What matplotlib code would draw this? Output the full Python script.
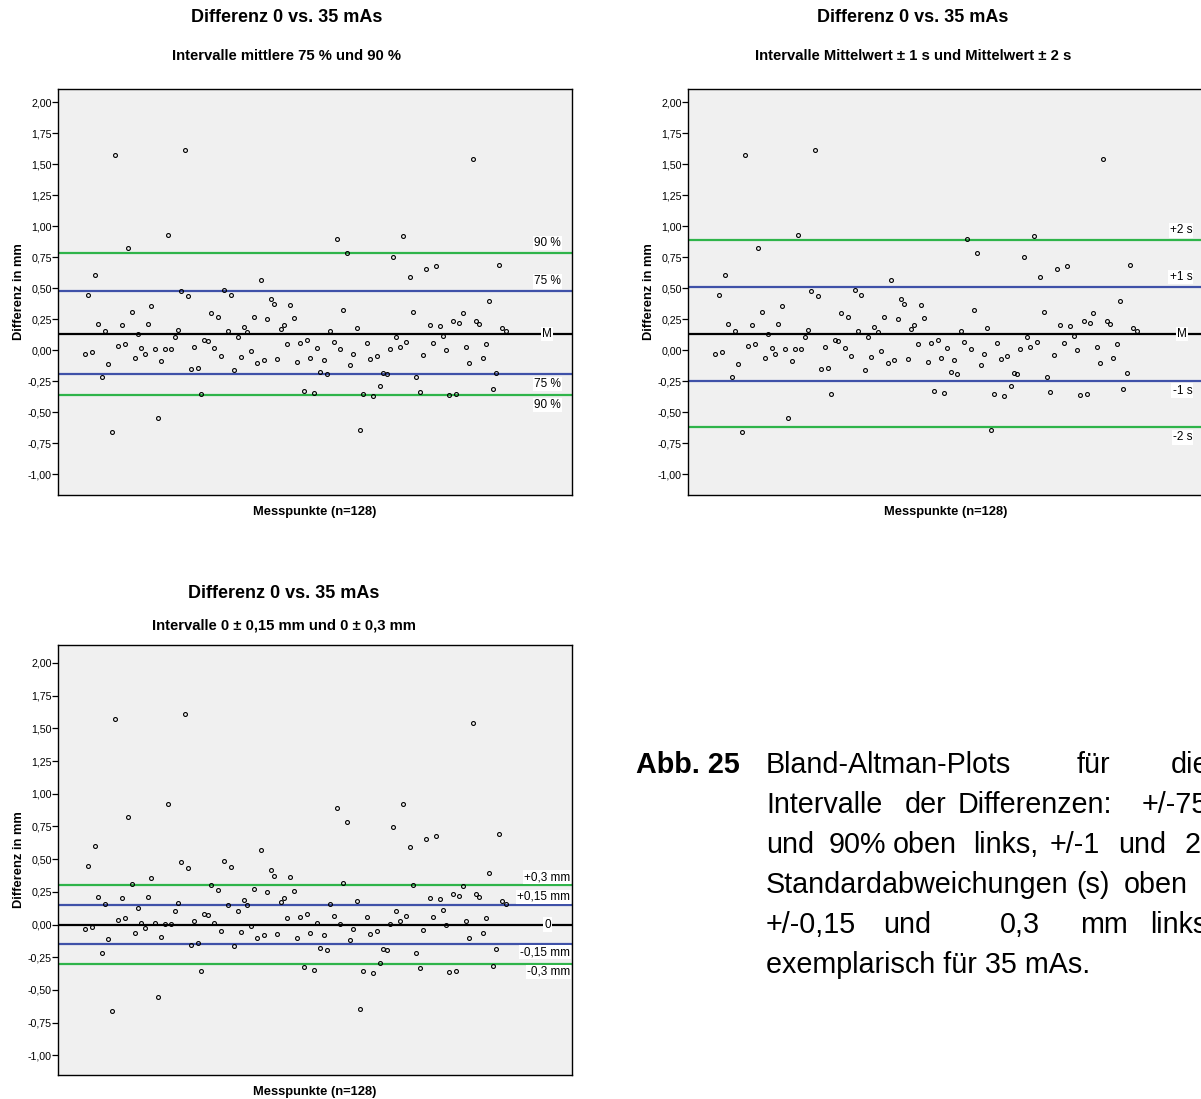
import numpy as np
import matplotlib
matplotlib.use("Agg")
import matplotlib.pyplot as plt
from matplotlib.ticker import FuncFormatter, MultipleLocator

plt.rcParams['font.family'] = ['Liberation Sans', 'DejaVu Sans']

# ---- data: differences (mm) for 128 measuring points, 0 vs. 35 mAs ----
differences = [
    -0.035, 0.446, -0.016, 0.603, 0.211, -0.214, 0.154, -0.114, -0.657,
    1.57,
    0.032, 0.203, 0.051, 0.824, 0.308, -0.062, 0.130, 0.014, -0.030, 0.211,
    0.354, 0.011, -0.551, -0.092, 0.008, 0.924, 0.005, 0.105, 0.165, 0.478,
    1.61,
    0.435, -0.154, 0.024, -0.143, -0.357, 0.078, 0.076, 0.300, 0.014, 0.265,
    -0.046, 0.486, 0.151, 0.441, -0.162, 0.105, -0.054, 0.186, 0.146, -0.011,
    0.268, -0.103, 0.568, -0.081, 0.251, 0.414, 0.368, -0.073, 0.173, 0.205,
    0.051, 0.362, 0.259, -0.100, 0.054, -0.327, 0.081, -0.065, -0.349, 0.014,
    -0.178, -0.078, -0.192, 0.157, 0.065, 0.892, 0.008, 0.319, 0.786, -0.119,
    -0.032, 0.178, -0.646, -0.357, 0.057, -0.073, -0.368, -0.046, -0.292, -0.186,
    -0.195, 0.008, 0.749, 0.103, 0.024, 0.919, 0.065, 0.592, 0.303, -0.219,
    -0.335, -0.043, 0.657, 0.203, 0.057, 0.676, 0.192, 0.111, 0.000, -0.362,
    0.232, -0.357, 0.222, 0.297, 0.024, -0.105,
    1.54,
    0.235, 0.211, -0.068, 0.051, 0.395, -0.316, -0.184, 0.689, 0.178, 0.157,
]
points = list(range(1, len(differences) + 1))

# reference lines (value, label) per panel
pct_values = [0.785, 0.473, 0.131, -0.191, -0.363]
pct_labels = ["90 %", "75 %", "M", "75 %", "90 %"]

sd_values = [0.884, 0.507, 0.130, -0.246, -0.624]
sd_labels = ["+2 s", "+1 s", "M", "-1 s", "-2 s"]

fix_values = [0.30, 0.15, 0.0, -0.15, -0.30]
fix_labels = ["+0,3 mm", "+0,15 mm", "0", "-0,15 mm", "-0,3 mm"]

main_title = "Differenz 0 vs. 35 mAs"
sub_titles = ["Intervalle mittlere 75 % und 90 %",
              "Intervalle Mittelwert \u00b1 1 s und Mittelwert \u00b1 2 s",
              "Intervalle 0 \u00b1 0,15 mm und 0 \u00b1 0,3 mm"]
x_label = "Messpunkte (n=128)"
y_label = "Differenz in mm"

GREEN = "#2fb44a"
BLUE = "#3f51a8"

W, H = 1201, 1099
fig = plt.figure(figsize=(W / 100, H / 100), dpi=100)

def px_axes(l, t, r, b):
    return fig.add_axes([l / W, 1 - b / H, (r - l) / W, (b - t) / H])

line_colors = [GREEN, BLUE, "black", BLUE, GREEN]

def draw_panel(ax, values, labels, label_x, m_x, ylo, yhi, pad_px=4):
    ax.set_facecolor("#f0f0f0")
    for v, c in zip(values, line_colors):
        ax.axhline(v, color=c, lw=1.6, zorder=2)
    ax.plot(points, differences, 'o', mfc='none', mec='black', ms=2.8,
            mew=0.8, zorder=3)
    ax.set_xlim(-7.2, 148)
    ax.set_ylim(ylo, yhi)
    ax.yaxis.set_major_locator(MultipleLocator(0.25))
    ax.yaxis.set_major_formatter(FuncFormatter(lambda v, p: f"{v:.2f}".replace('.', ',')))
    ax.set_xticks([])
    ax.tick_params(axis='y', length=4, width=0.9, labelsize=7.7, pad=0.5, color='black')
    for s in ax.spines.values():
        s.set_color('black')
        s.set_linewidth(1.0)
    ax.set_ylabel(y_label, fontsize=9.3, fontweight='bold', labelpad=2)
    ax.set_xlabel(x_label, fontsize=9.3, fontweight='bold', labelpad=8)
    bb = dict(boxstyle='square,pad=0.1', fc='white', ec='none')
    for i, (v, lab) in enumerate(zip(values, labels)):
        if i == 2:
            ax.annotate(lab, xy=(m_x, v), xycoords=('axes fraction', 'data'),
                        ha='center', va='center', fontsize=8.5, bbox=bb, zorder=4)
        elif i < 2:
            ax.annotate(lab, xy=(label_x, v), xycoords=('axes fraction', 'data'),
                        xytext=(0, pad_px), textcoords='offset pixels',
                        ha='right', va='bottom', fontsize=8.5, bbox=bb, zorder=4)
        else:
            ax.annotate(lab, xy=(label_x, v), xycoords=('axes fraction', 'data'),
                        xytext=(0, -pad_px), textcoords='offset pixels',
                        ha='right', va='top', fontsize=8.5, bbox=bb, zorder=4)

ax1 = px_axes(58, 89, 572, 495)
draw_panel(ax1, pct_values, pct_labels, 0.979, 0.952, -1.169, 2.105)
ax2 = px_axes(688, 89, 1203, 495)
draw_panel(ax2, sd_values, sd_labels, 0.979, 0.959, -1.169, 2.105)
ax3 = px_axes(58, 645, 572, 1075)
draw_panel(ax3, fix_values, fix_labels, 0.996, 0.952, -1.150, 2.137, pad_px=2)

def ftext(x, y, s, **kw):
    fig.text(x / W, 1 - y / H, s, **kw)

T_FS, S_FS = 13, 10.7
ftext(287, 18, main_title, ha='center', va='center', fontsize=T_FS, fontweight='bold')
ftext(287, 56, sub_titles[0], ha='center', va='center', fontsize=S_FS, fontweight='bold')
ftext(913, 18, main_title, ha='center', va='center', fontsize=T_FS, fontweight='bold')
ftext(913, 56, sub_titles[1], ha='center', va='center', fontsize=S_FS, fontweight='bold')
ftext(284, 594, main_title, ha='center', va='center', fontsize=T_FS, fontweight='bold')
ftext(284, 625, sub_titles[2], ha='center', va='center', fontsize=S_FS, fontweight='bold')

# caption (justified text, cut at the right edge)
cap_fs = 20.7
ftext(636, 765, "Abb. 25", ha='left', va='center', fontsize=cap_fs, fontweight='bold')
caption_lines = [
    (765, [(766, "Bland-Altman-Plots"), (1077, "für"), (1171, "die")]),
    (805, [(766, "Intervalle"), (905, "der"), (958, "Differenzen:"), (1142, "+/-75%")]),
    (845, [(766, "und"), (829, "90%"), (893, "oben"), (973, "links,"), (1050, "+/-1"), (1118, "und"), (1185, "2")]),
    (885, [(766, "Standardabweichungen"), (1076, "(s)"), (1124, "oben")]),
    (925, [(766, "+/-0,15"), (883, "und"), (1000, "0,3"), (1080, "mm"), (1150, "links")]),
    (965, [(766, "exemplarisch für 35 mAs.")]),
]
for y, words in caption_lines:
    for x, w in words:
        ftext(x, y, w, ha='left', va='center', fontsize=cap_fs)

fig.savefig("out.png", dpi=100)
